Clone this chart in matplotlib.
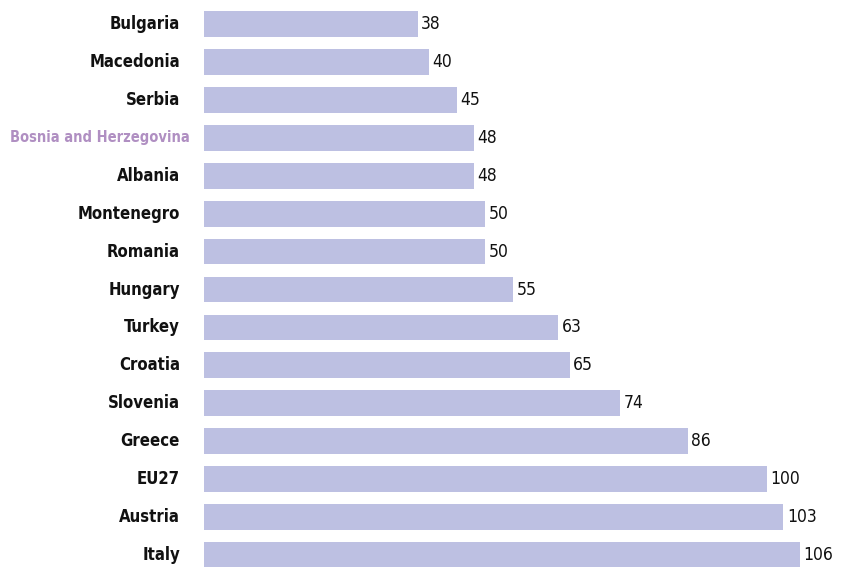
import matplotlib
matplotlib.use("Agg")
import matplotlib.pyplot as plt

countries = ["Bulgaria", "Macedonia", "Serbia", "Bosnia and Herzegovina", "Albania",
             "Montenegro", "Romania", "Hungary", "Turkey", "Croatia", "Slovenia",
             "Greece", "EU27", "Austria", "Italy"]
values = [38, 40, 45, 48, 48, 50, 50, 55, 63, 65, 74, 86, 100, 103, 106]
highlight = "Bosnia and Herzegovina"

bar_color = "#bdc0e2"
label_font = dict(family="DejaVu Sans", stretch="condensed")
px = 5.625  # pixels per data unit

fig = plt.figure(figsize=(8.42, 5.67), dpi=100)
ax = fig.add_axes([204 / 842, 0, 1 - 204 / 842, 1])

ypos = list(range(len(countries)))
ax.barh(ypos, values, height=0.68, color=bar_color)
ax.set_xlim(0, 113.4)
ax.set_ylim(14.316, -0.633)
ax.axis("off")

for y, name, v in zip(ypos, countries, values):
    if name == highlight:
        ax.text(-14 / px, y, name, ha="right", va="center", fontsize=10.5,
                fontweight="bold", color="#b08fc2", **label_font)
    else:
        ax.text(-24 / px, y, name, ha="right", va="center", fontsize=12,
                fontweight="bold", color="#111111", **label_font)
    ax.text(v + 0.6, y, str(v), ha="left", va="center", fontsize=12.5,
            color="#111111", **label_font)

fig.savefig("out.png", dpi=100)
